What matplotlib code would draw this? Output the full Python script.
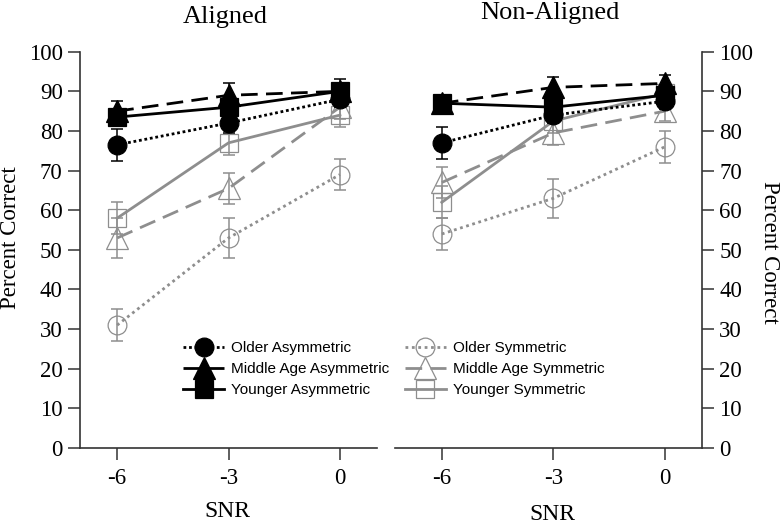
import numpy as np
import matplotlib
matplotlib.use("Agg")
import matplotlib.pyplot as plt

snr = [-6, -3, 0]
snr_labels = ["-6", "-3", "0"]
yticks = list(range(0, 101, 10))

# Aligned condition
al_older_asym = [76.5, 82, 88]
al_older_asym_err = [4, 2.5, 2]
al_middle_asym = [85, 89, 90]
al_middle_asym_err = [2.5, 3, 2]
al_younger_asym = [83.5, 86, 90]
al_younger_asym_err = [2, 2.5, 3]
al_older_sym = [31, 53, 69]
al_older_sym_err = [4, 5, 4]
al_middle_sym = [53, 65.5, 86]
al_middle_sym_err = [5, 4, 3]
al_younger_sym = [58, 77, 84]
al_younger_sym_err = [4, 3, 3]

# Non-aligned condition
na_older_asym = [77, 84, 87.5]
na_older_asym_err = [4, 2, 2]
na_middle_asym = [87, 91, 92]
na_middle_asym_err = [2, 2.5, 2]
na_younger_asym = [87, 86, 89]
na_younger_asym_err = [2, 2, 2]
na_older_sym = [54, 63, 76]
na_older_sym_err = [4, 5, 4]
na_middle_sym = [67, 79.5, 85]
na_middle_sym_err = [4, 3, 2.5]
na_younger_sym = [62, 82.5, 89.5]
na_younger_sym_err = [4, 3, 2]

GRAY = "#8e8e8e"
SPINE = "#333333"
SERIF = "Liberation Serif"
SANS = "Liberation Sans"

# marker, linestyle, color, filled, markersize
styles = {
    "Older Asymmetric": ("o", (0, (1, 1)), "black", True, 13.5),
    "Middle Age Asymmetric": ("^", (0, (6, 3)), "black", True, 15.5),
    "Younger Asymmetric": ("s", "-", "black", True, 13.5),
    "Older Symmetric": ("o", (0, (1, 1.3)), GRAY, False, 13.5),
    "Middle Age Symmetric": ("^", (0, (6, 3)), GRAY, False, 16),
    "Younger Symmetric": ("s", "-", GRAY, False, 13.5),
}


def draw_series(ax, name, y, err):
    m, ls, c, filled, ms = styles[name]
    ax.errorbar(snr, y, yerr=err, fmt="none", ecolor=c, elinewidth=1.1,
                capsize=4.5, capthick=1.1, zorder=2 if not filled else 4)
    line, = ax.plot(snr, y, marker=m, linestyle=ls, color=c, linewidth=2,
                    markersize=ms,
                    markerfacecolor=c if filled else "none",
                    markeredgecolor=c, markeredgewidth=0.9,
                    zorder=3 if not filled else 5, label=name)
    return line


def style_axes(ax, side, xlim):
    ax.set_xlim(*xlim)
    ax.set_ylim(0, 100)
    ax.set_xticks(snr)
    ax.set_xticklabels(snr_labels)
    ax.set_yticks(yticks)
    ax.set_yticklabels([str(v) for v in yticks])
    for s in ["top", "left", "right"]:
        ax.spines[s].set_visible(False)
    ax.spines[side].set_visible(True)
    for s in ["bottom", side]:
        ax.spines[s].set_color(SPINE)
        ax.spines[s].set_linewidth(1.2)
    ax.tick_params(axis="both", direction="out", length=8.5, width=1.1,
                   color=SPINE, labelsize=16.5, pad=4)
    ax.tick_params(axis="x", pad=6)
    if side == "right":
        ax.yaxis.tick_right()
    else:
        ax.yaxis.tick_left()
    for t in ax.get_xticklabels() + ax.get_yticklabels():
        t.set_fontfamily(SERIF)


fig = plt.figure(figsize=(7.8, 5.27), dpi=100)
ax1 = fig.add_axes([0.1026, 0.1499, 0.3808, 0.752])
ax2 = fig.add_axes([0.5064, 0.1499, 0.3936, 0.752])

# gray (symmetric) first, black on top
draw_series(ax1, "Older Symmetric", al_older_sym, al_older_sym_err)
draw_series(ax1, "Middle Age Symmetric", al_middle_sym, al_middle_sym_err)
draw_series(ax1, "Younger Symmetric", al_younger_sym, al_younger_sym_err)
h1 = [draw_series(ax1, "Older Asymmetric", al_older_asym, al_older_asym_err),
      draw_series(ax1, "Middle Age Asymmetric", al_middle_asym, al_middle_asym_err),
      draw_series(ax1, "Younger Asymmetric", al_younger_asym, al_younger_asym_err)]

h2 = [draw_series(ax2, "Older Symmetric", na_older_sym, na_older_sym_err),
      draw_series(ax2, "Middle Age Symmetric", na_middle_sym, na_middle_sym_err),
      draw_series(ax2, "Younger Symmetric", na_younger_sym, na_younger_sym_err)]
draw_series(ax2, "Older Asymmetric", na_older_asym, na_older_asym_err)
draw_series(ax2, "Middle Age Asymmetric", na_middle_asym, na_middle_asym_err)
draw_series(ax2, "Younger Asymmetric", na_younger_asym, na_younger_asym_err)

style_axes(ax1, "left", (-7.0, 1.0))
style_axes(ax2, "right", (-7.26, 1.0))

leg_kw = dict(frameon=False, borderpad=0, borderaxespad=0, labelspacing=0.45,
              handlelength=2.7, handletextpad=0.45,
              prop={"family": SANS, "size": 11}, loc="upper left",
              bbox_transform=fig.transFigure)
l1 = ax1.legend(handles=h1, bbox_to_anchor=(0.2346, 0.352), **leg_kw)
l2 = ax2.legend(handles=h2, bbox_to_anchor=(0.519, 0.352), **leg_kw)
for l in (l1, l2):
    l.set_zorder(10)

fig.text(0.2885, 0.9677, "Aligned", ha="center", va="center",
         fontsize=19, family=SERIF)
fig.text(0.705, 0.975, "Non-Aligned", ha="center", va="center",
         fontsize=19, family=SERIF)
fig.text(0.013, 0.55, "Percent Correct", rotation=90, ha="center",
         va="center", fontsize=16.5, family=SERIF)
fig.text(0.986, 0.522, "Percent Correct", rotation=270, ha="center",
         va="center", fontsize=16.5, family=SERIF)
fig.text(0.292, 0.03, "SNR", ha="center", va="center", fontsize=17,
         family=SERIF)
fig.text(0.708, 0.024, "SNR", ha="center", va="center", fontsize=17,
         family=SERIF)

fig.savefig("out.png", dpi=100)
